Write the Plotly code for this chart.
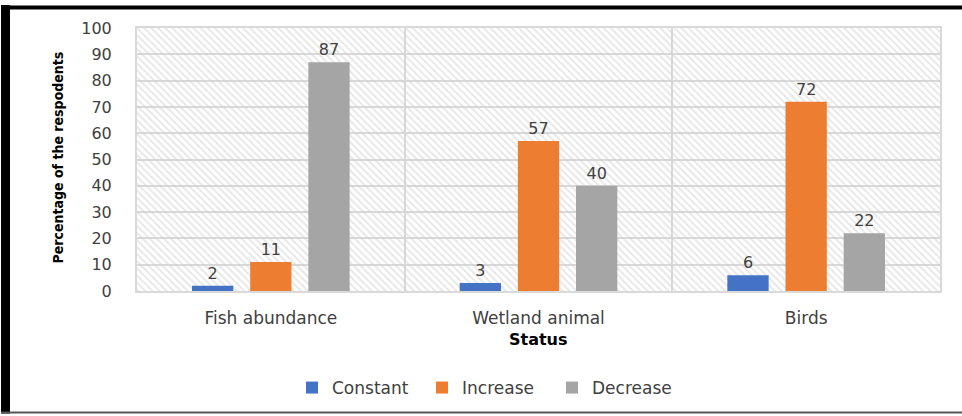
import plotly.graph_objects as go

categories = ["Fish abundance", "Wetland animal", "Birds"]
constant = [2, 3, 6]
increase = [11, 57, 72]
decrease = [87, 40, 22]
series_names = ["Constant", "Increase", "Decrease"]
colors = ["#4472C4", "#ED7D31", "#A5A5A5"]
y_ticks = [0, 10, 20, 30, 40, 50, 60, 70, 80, 90, 100]

W, H = 962, 416
L, R, T, B = 137, 22, 28, 124
pw, ph = W - L - R, H - T - B

def px_x(p):
    return (p - L) / pw

def px_y(p):
    return (H - B - p) / ph

FONT = "DejaVu Sans"
TXT = "#404040"

fig = go.Figure()

# hatched plot-area background
fig.add_trace(go.Bar(
    x=[0.5], y=[100], width=[1], xaxis="x", yaxis="y",
    marker=dict(color="rgba(0,0,0,0)", line=dict(width=0),
                pattern=dict(shape="\\", fgcolor="#d0d0d0", bgcolor="rgba(0,0,0,0)",
                             size=5, solidity=0.4, fillmode="overlay")),
    showlegend=False, hoverinfo="skip",
))

for name, vals, col in zip(series_names, [constant, increase, decrease], colors):
    fig.add_trace(go.Bar(
        x=categories, y=vals, name=name, xaxis="x2", yaxis="y",
        marker=dict(color=col, line=dict(width=0)),
        text=[str(v) for v in vals], textposition="outside",
        textfont=dict(family=FONT, size=16, color=TXT),
        cliponaxis=False,
    ))

fig.update_layout(
    width=W, height=H,
    margin=dict(l=L, r=R, t=T, b=B),
    paper_bgcolor="white", plot_bgcolor="white",
    barmode="group", bargap=0.348, bargroupgap=0.29,
    xaxis=dict(range=[0, 1], visible=False, showgrid=False, zeroline=False),
    xaxis2=dict(overlaying="x", anchor="y", side="bottom", type="category",
                showgrid=True, gridcolor="#d9d9d9", gridwidth=2, tickson="boundaries",
                ticks="", showline=True, linecolor="#d9d9d9", linewidth=2, mirror=True,
                tickfont=dict(family=FONT, size=17, color=TXT), ticklabelstandoff=11),
    yaxis=dict(range=[0, 100], tickvals=y_ticks, showgrid=True, gridcolor="#d9d9d9",
               gridwidth=2, zeroline=False, showline=True, linecolor="#d9d9d9",
               linewidth=2, mirror=True, ticks="",
               tickfont=dict(family=FONT, size=16, color=TXT), ticklabelstandoff=20),
    legend=dict(orientation="h", x=px_x(487), xanchor="center", y=px_y(388),
                yanchor="middle", font=dict(family=FONT, size=17, color=TXT),
                itemwidth=30, entrywidth=85, entrywidthmode="pixels",
                bgcolor="rgba(0,0,0,0)"),
    annotations=[
        dict(text="<b>Percentage of the respodents</b>", xref="paper", yref="paper",
             x=px_x(58), y=px_y(158), xanchor="center", yanchor="middle",
             textangle=-90, showarrow=False,
             font=dict(family="DejaVu Sans Condensed, Liberation Sans", size=14,
                       color="black")),
        dict(text="<b>Status</b>", xref="paper", yref="paper", x=0.5, y=px_y(341),
             xanchor="center", yanchor="middle",
             showarrow=False, font=dict(family=FONT, size=16, color="black")),
    ],
    shapes=[
        dict(type="rect", xref="paper", yref="paper", x0=px_x(1), x1=px_x(10),
             y0=px_y(415), y1=px_y(5), fillcolor="black", line=dict(width=0)),
        dict(type="rect", xref="paper", yref="paper", x0=px_x(1), x1=px_x(962),
             y0=px_y(9.5), y1=px_y(5.5), fillcolor="black", line=dict(width=0)),
        dict(type="rect", xref="paper", yref="paper", x0=px_x(1), x1=px_x(962),
             y0=px_y(415), y1=px_y(413), fillcolor="#555555", line=dict(width=0)),
    ],
)

fig.write_html("out.html")
